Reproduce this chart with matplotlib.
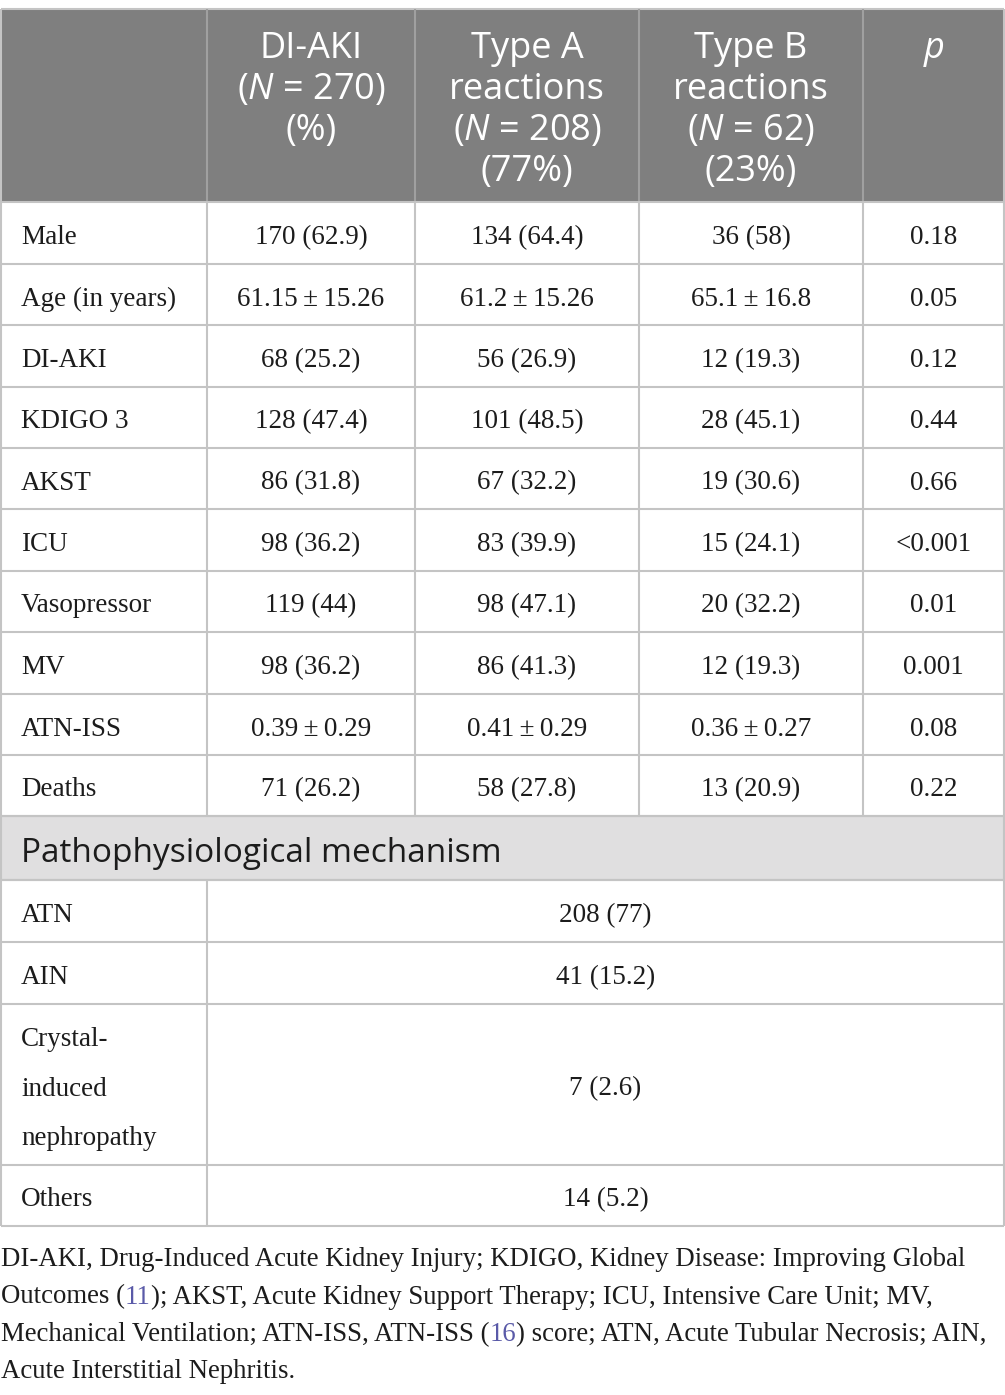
import matplotlib
matplotlib.use("Agg")
import matplotlib.pyplot as plt
from matplotlib.patches import Rectangle

plt.rcParams['mathtext.fontset'] = 'custom'
plt.rcParams['mathtext.rm'] = 'Open Sans'
plt.rcParams['mathtext.it'] = 'Open Sans:italic'

W, H = 1005, 1395

# ---- data ----
header_cols = [
    [],
    ["DI-AKI", "($N$ = 270)", "(%)"],
    ["Type A", "reactions", "($N$ = 208)", "(77%)"],
    ["Type B", "reactions", "($N$ = 62)", "(23%)"],
    ["$p$"],
]

row_labels = ["Male", "Age (in years)", "DI-AKI", "KDIGO 3", "AKST", "ICU",
              "Vasopressor", "MV", "ATN-ISS", "Deaths"]
col_diaki = ["170 (62.9)", "61.15\u2009±\u200915.26", "68 (25.2)", "128 (47.4)", "86 (31.8)",
             "98 (36.2)", "119 (44)", "98 (36.2)", "0.39\u2009±\u20090.29", "71 (26.2)"]
col_type_a = ["134 (64.4)", "61.2\u2009±\u200915.26", "56 (26.9)", "101 (48.5)", "67 (32.2)",
              "83 (39.9)", "98 (47.1)", "86 (41.3)", "0.41\u2009±\u20090.29", "58 (27.8)"]
col_type_b = ["36 (58)", "65.1\u2009±\u200916.8", "12 (19.3)", "28 (45.1)", "19 (30.6)",
              "15 (24.1)", "20 (32.2)", "12 (19.3)", "0.36\u2009±\u20090.27", "13 (20.9)"]
p_values = ["0.18", "0.05", "0.12", "0.44", "0.66", "<0.001", "0.01", "0.001", "0.08", "0.22"]

section_title = "Pathophysiological mechanism"
mech_labels = [["ATN"], ["AIN"], ["Crystal-", "induced", "nephropathy"], ["Others"]]
mech_values = ["208 (77)", "41 (15.2)", "7 (2.6)", "14 (5.2)"]

footnote = [
    [("DI-AKI, Drug-Induced Acute Kidney Injury; KDIGO, Kidney Disease: Improving Global", 0)],
    [("Outcomes (", 0), ("11", 1), ("); AKST, Acute Kidney Support Therapy; ICU, Intensive Care Unit; MV,", 0)],
    [("Mechanical Ventilation; ATN-ISS, ATN-ISS (", 0), ("16", 1), (") score; ATN, Acute Tubular Necrosis; AIN,", 0)],
    [("Acute Interstitial Nephritis.", 0)],
]

# ---- geometry ----
col_edges = [1, 207, 415, 639, 863, 1004]
header_top, header_bot = 9, 202
body_edges = [202, 264, 325, 387, 448, 509, 571, 632, 694, 755, 816]
section_edges = [816, 880]
mech_edges = [880, 942, 1004, 1165, 1226]

head_bg = '#7f7f7f'
sect_bg = '#e0dfe0'
grid_c = '#c4c4c4'
txt_c = '#1c1c1c'
ref_c = '#5a5aa8'
lw = 1.5

fig = plt.figure(figsize=(W / 100, H / 100), dpi=100)
ax = fig.add_axes([0, 0, 1, 1])
ax.set_xlim(0, W)
ax.set_ylim(H, 0)
ax.axis('off')

# backgrounds
ax.add_patch(Rectangle((col_edges[0], header_top), col_edges[-1] - col_edges[0],
                       header_bot - header_top, facecolor=head_bg, edgecolor='none'))
ax.add_patch(Rectangle((col_edges[0], section_edges[0]), col_edges[-1] - col_edges[0],
                       section_edges[1] - section_edges[0], facecolor=sect_bg, edgecolor='none'))

# grid lines
ax.hlines([header_top], col_edges[0], col_edges[-1], color=grid_c, lw=lw)
ax.vlines(col_edges[1:-1], header_top, header_bot, color='#a0a0a0', lw=lw)
ax.vlines([col_edges[0], col_edges[-1]], header_top, header_bot, color=grid_c, lw=lw)
ax.hlines(body_edges + section_edges + mech_edges, col_edges[0], col_edges[-1], color=grid_c, lw=lw)
ax.vlines(col_edges, body_edges[0], body_edges[-1], color=grid_c, lw=lw)
ax.vlines([col_edges[0], col_edges[-1]], section_edges[0], section_edges[1], color=grid_c, lw=lw)
ax.vlines([col_edges[0], col_edges[1], col_edges[-1]], mech_edges[0], mech_edges[-1], color=grid_c, lw=lw)

sans = 'Open Sans'
serif = 'Liberation Serif'
head_fs = 26
body_fs = 19.5

# header text
for j, lines in enumerate(header_cols):
    cx = (col_edges[j] + col_edges[j + 1]) / 2
    for k, s in enumerate(lines):
        ax.text(cx, 58 + 41 * k, s, ha='center', va='baseline', color='white',
                family=sans, fontsize=head_fs)

# body rows
columns = [col_diaki, col_type_a, col_type_b, p_values]
for i, lab in enumerate(row_labels):
    cy = (body_edges[i] + body_edges[i + 1]) / 2 + 11
    ax.text(21, cy, lab, ha='left', va='baseline', color=txt_c, family=serif, fontsize=body_fs)
    for j, col in enumerate(columns):
        cx = (col_edges[j + 1] + col_edges[j + 2]) / 2
        ax.text(cx, cy, col[i], ha='center', va='baseline', color=txt_c, family=serif, fontsize=body_fs)

# section band
ax.text(21, 862, section_title, ha='left', va='baseline', color=txt_c, family=sans, fontsize=24)

# mechanism rows
vx = (col_edges[1] + col_edges[-1]) / 2
for i, lines in enumerate(mech_labels):
    mid = (mech_edges[i] + mech_edges[i + 1]) / 2
    n = len(lines)
    for k, s in enumerate(lines):
        y = mid + 11 + (k - (n - 1) / 2) * 49.5
        ax.text(21, y, s, ha='left', va='baseline', color=txt_c, family=serif, fontsize=body_fs)
    ax.text(vx, mid + 11, mech_values[i], ha='center', va='baseline', color=txt_c,
            family=serif, fontsize=body_fs)

# footnote: fit first line to its width in the reference
renderer = fig.canvas.get_renderer()
probe = ax.text(0, 0, footnote[0][0][0], family=serif, fontsize=10)
fn_fs = 10 * 964 / probe.get_window_extent(renderer).width
probe.remove()

for k, pieces in enumerate(footnote):
    x = 1
    y = 1266 + 37.5 * k
    for s, is_ref in pieces:
        t = ax.text(x, y, s, ha='left', va='baseline', family=serif, fontsize=fn_fs,
                    color=ref_c if is_ref else txt_c)
        x += t.get_window_extent(renderer).width

fig.savefig('out.png', dpi=100)
